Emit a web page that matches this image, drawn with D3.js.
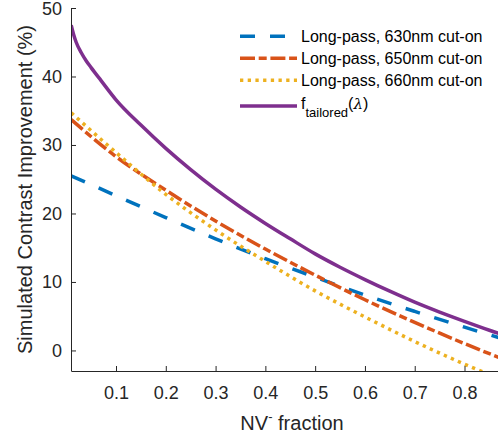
<!DOCTYPE html>
<html>
<head>
<meta charset="utf-8">
<script src="https://cdn.jsdelivr.net/npm/d3@7"></script>
<style>
  html, body { margin: 0; padding: 0; background: #fff; }
  svg { display: block; font-family: "Liberation Sans", Arial, Helvetica, sans-serif; }
</style>
</head>
<body>
<svg id="chart" width="498" height="441"></svg>
<script>
// ---- data ----
const xs = [0.01, 0.1, 0.2, 0.3, 0.4, 0.5, 0.6, 0.7, 0.8, 0.9];
const lp630 = [25.5, 22.6, 19.4, 16.3, 13.4, 10.7, 8.1, 5.7, 3.4, 1.2];
const lp650 = [33.7, 28.3, 23.4, 18.9, 14.8, 11.0, 7.4, 4.1, 1.0, -1.9];
const lp660 = [34.7, 28.9, 22.8, 17.6, 13.0, 8.7, 4.9, 1.3, -2.0, -5.0];
const xsTailored = [0.01, 0.015, 0.02, 0.03, 0.04, 0.05, 0.07, 0.1, 0.15, 0.2, 0.25, 0.3, 0.35, 0.4, 0.45, 0.5, 0.55, 0.6, 0.65, 0.7, 0.75, 0.8, 0.85, 0.9];
const tailored = [47.5, 46.1, 45.0, 43.5, 42.3, 41.3, 39.4, 36.6, 32.9, 29.5, 26.4, 23.55, 20.95, 18.55, 16.3, 14.1, 12.15, 10.35, 8.65, 7.05, 5.6, 4.25, 2.95, 1.75];
const xTicks = [0.1, 0.2, 0.3, 0.4, 0.5, 0.6, 0.7, 0.8];
const yTicks = [0, 10, 20, 30, 40, 50];
const seriesNames = ["Long-pass, 630nm cut-on", "Long-pass, 650nm cut-on", "Long-pass, 660nm cut-on"];

// ---- layout / styles ----
const svg = d3.select("#chart");
const ink = "#262626";
const x = d3.scaleLinear().domain([0.01, 0.9]).range([71.2, 514.3]);
const y = d3.scaleLinear().domain([-3, 50]).range([371, 8]);

const styles = [
  { color: "#0072BD", dash: "15,15" },
  { color: "#D95319", dash: "15,3.7,8,3.7" },
  { color: "#EDB120", dash: "3.3,4.4" },
  { color: "#7E2F8E", dash: null }
];
const lw = 3.5;

svg.append("defs").append("clipPath").attr("id", "plotclip")
  .append("rect").attr("x", 71).attr("y", 0).attr("width", 460).attr("height", 371);

const series = [
  { xv: xs, yv: lp630, s: styles[0] },
  { xv: xs, yv: lp650, s: styles[1] },
  { xv: xs, yv: lp660, s: styles[2] },
  { xv: xsTailored, yv: tailored, s: styles[3] }
];

const line = d3.line().x(d => x(d[0])).y(d => y(d[1])).curve(d3.curveMonotoneX);
const g = svg.append("g").attr("clip-path", "url(#plotclip)");
series.forEach(sr => {
  const pts = sr.xv.map((v, i) => [v, sr.yv[i]]);
  g.append("path").datum(pts)
    .attr("d", line)
    .attr("fill", "none")
    .attr("stroke", sr.s.color)
    .attr("stroke-width", lw)
    .attr("stroke-dasharray", sr.s.dash)
    .attr("stroke-linecap", "butt")
    .attr("stroke-linejoin", "round");
});

// ---- axes ----
const xAxis = d3.axisBottom(x).tickValues(xTicks).tickFormat(d3.format(".1f"))
  .tickSizeInner(-5).tickSizeOuter(0).tickPadding(15);
const yAxis = d3.axisLeft(y).tickValues(yTicks).tickFormat(d3.format("d"))
  .tickSizeInner(-5).tickSizeOuter(0).tickPadding(9);

const gx = svg.append("g").attr("transform", "translate(0,371)").call(xAxis);
const gy = svg.append("g").attr("transform", "translate(71,0)").call(yAxis);
[gx, gy].forEach(ax => {
  ax.select(".domain").attr("stroke", ink).attr("stroke-width", 1);
  ax.selectAll(".tick line").attr("stroke", ink).attr("stroke-width", 1);
  ax.selectAll(".tick text").attr("fill", ink).attr("font-size", 18)
    .attr("font-family", "Liberation Sans, Arial, sans-serif");
});
gy.selectAll(".tick text").filter(d => d === 50).attr("dy", "0.38em");

// ---- axis labels ----
const xl = svg.append("text").attr("x", 292).attr("y", 430)
  .attr("text-anchor", "middle").attr("font-size", 20).attr("fill", ink);
xl.append("tspan").text("NV");
xl.append("tspan").attr("font-size", 13).attr("dy", -9).text("-");
xl.append("tspan").attr("dy", 9).text(" fraction");

svg.append("text").attr("transform", "translate(32,189.5) rotate(-90)")
  .attr("text-anchor", "middle").attr("font-size", 20).attr("fill", ink)
  .text("Simulated Contrast Improvement (%)");

// ---- legend ----
const legRows = [36.3, 58.3, 80.3, 106];
const leg = svg.append("g");
styles.forEach((s, i) => {
  leg.append("line").attr("x1", 240).attr("x2", 297)
    .attr("y1", legRows[i]).attr("y2", legRows[i])
    .attr("stroke", s.color).attr("stroke-width", lw)
    .attr("stroke-dasharray", s.dash);
});
seriesNames.forEach((n, i) => {
  leg.append("text").attr("x", 301).attr("y", legRows[i] + 5.8)
    .attr("font-size", 16).attr("fill", "#000").text(n);
});
const ft = leg.append("text").attr("x", 301).attr("y", 108.5)
  .attr("font-size", 16).attr("fill", "#000");
ft.append("tspan").text("f");
ft.append("tspan").attr("font-size", 13).attr("dy", 8).text("tailored");
ft.append("tspan").attr("dy", -8).text("(");
ft.append("tspan").attr("font-family", "DejaVu Serif, serif").attr("font-style", "italic").attr("font-size", 15).text("λ");
ft.append("tspan").text(")");
</script>
</body>
</html>
